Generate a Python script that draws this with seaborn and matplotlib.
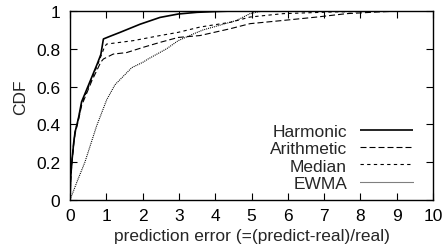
import pandas as pd
import seaborn as sns
import matplotlib
matplotlib.use("Agg")
import matplotlib.pyplot as plt

# values
methods = ["Harmonic", "Arithmetic", "Median", "EWMA"]

harmonic_x = [0, 0.02, 0.05, 0.1, 0.14, 0.23, 0.32, 0.45, 0.6, 0.75, 0.85, 0.92,
              1.1, 1.38, 1.93, 2.48, 2.98, 3.5, 4.0, 4.5, 10]
harmonic_y = [0, 0.12, 0.2, 0.3, 0.36, 0.43, 0.52, 0.58, 0.65, 0.72, 0.77, 0.852,
              0.866, 0.887, 0.93, 0.966, 0.984, 0.993, 0.997, 1.0, 1.0]

arithmetic_x = [0, 0.02, 0.05, 0.1, 0.14, 0.23, 0.32, 0.45, 0.6, 0.75, 0.85, 0.92,
                1.19, 1.56, 2.02, 2.48, 2.98, 3.58, 4.41, 4.96, 5.87, 6.8, 7.62,
                8.5, 9.1, 10]
arithmetic_y = [0, 0.11, 0.19, 0.29, 0.35, 0.42, 0.5, 0.56, 0.63, 0.69, 0.73, 0.746,
                0.772, 0.78, 0.808, 0.834, 0.86, 0.87, 0.906, 0.933, 0.95, 0.968,
                0.986, 0.995, 1.0, 1.0]

median_x = [0, 0.02, 0.05, 0.1, 0.14, 0.23, 0.32, 0.45, 0.6, 0.75, 0.85, 0.95,
            1.01, 1.74, 2.48, 2.98, 3.58, 4.41, 4.96, 5.87, 7.25, 8.5, 10]
median_y = [0, 0.12, 0.2, 0.3, 0.36, 0.43, 0.51, 0.57, 0.64, 0.71, 0.76, 0.81,
            0.825, 0.843, 0.87, 0.887, 0.915, 0.94, 0.968, 0.986, 0.995, 0.998, 1.0]

ewma_x = [0, 0.2, 0.41, 0.73, 1.01, 1.24, 1.7, 2.02, 2.15, 2.66, 2.98, 3.39, 3.67,
          4.59, 4.96, 5.3, 10]
ewma_y = [0, 0.1, 0.2, 0.39, 0.53, 0.61, 0.70, 0.73, 0.746, 0.80, 0.843, 0.878,
          0.90, 0.95, 0.986, 1.0, 1.0]

x_ticks = list(range(0, 11))
y_ticks = [0, 0.2, 0.4, 0.6, 0.8, 1.0]
y_ticklabels = ["0", "0.2", "0.4", "0.6", "0.8", "1"]

series = {
    "Harmonic": (harmonic_x, harmonic_y),
    "Arithmetic": (arithmetic_x, arithmetic_y),
    "Median": (median_x, median_y),
    "EWMA": (ewma_x, ewma_y),
}
styles = {
    "Harmonic": dict(lw=1.2, linestyle="-"),
    "Arithmetic": dict(lw=0.8, linestyle=(0, (5.4, 2.7))),
    "Median": dict(lw=0.8, linestyle=(0, (3.0, 3.0))),
    "EWMA": dict(lw=0.8, linestyle=(0, (0.9, 0.9))),
}

FS = 12.5

sns.set_style("ticks")
plt.rcParams["font.family"] = ["Liberation Sans", "DejaVu Sans"]

fig = plt.figure(figsize=(4.47, 2.53), dpi=100)
ax = fig.add_axes([0.1566, 0.2055, 0.8121, 0.7471])

for name in methods:
    xs, ys = series[name]
    df = pd.DataFrame({"err": xs, "cdf": ys})
    sns.lineplot(data=df, x="err", y="cdf", ax=ax, color="black", estimator=None,
                 sort=False, label=name, solid_capstyle="butt",
                 dash_capstyle="butt", **styles[name])

ax.set_xlim(0, 10)
ax.set_ylim(0, 1)
ax.set_xticks(x_ticks)
ax.set_yticks(y_ticks)
ax.set_yticklabels(y_ticklabels)
ax.tick_params(direction="in", length=5, width=0.8, top=True, right=True,
               labelsize=FS, colors="black")
ax.tick_params(axis="x", pad=6)
ax.tick_params(axis="y", pad=7)
for s in ax.spines.values():
    s.set_linewidth(1.0)
    s.set_color("black")
ax.set_xlabel("prediction error (=(predict-real)/real)", fontsize=FS)
ax.xaxis.set_label_coords(0.5, -0.15)
ax.set_ylabel("CDF", fontsize=FS)
ax.yaxis.set_label_coords(-0.114, 0.55)

leg = ax.legend(loc="lower right", bbox_to_anchor=(0.945, 0.048), frameon=False,
                markerfirst=False, fontsize=FS, handlelength=3.05,
                handletextpad=0.75, labelspacing=0.13, borderaxespad=0,
                borderpad=0)
# gnuplot-like right-aligned keys
for col in leg._legend_handle_box.get_children():
    col.align = "right"

fig.savefig("out.png", dpi=100)
